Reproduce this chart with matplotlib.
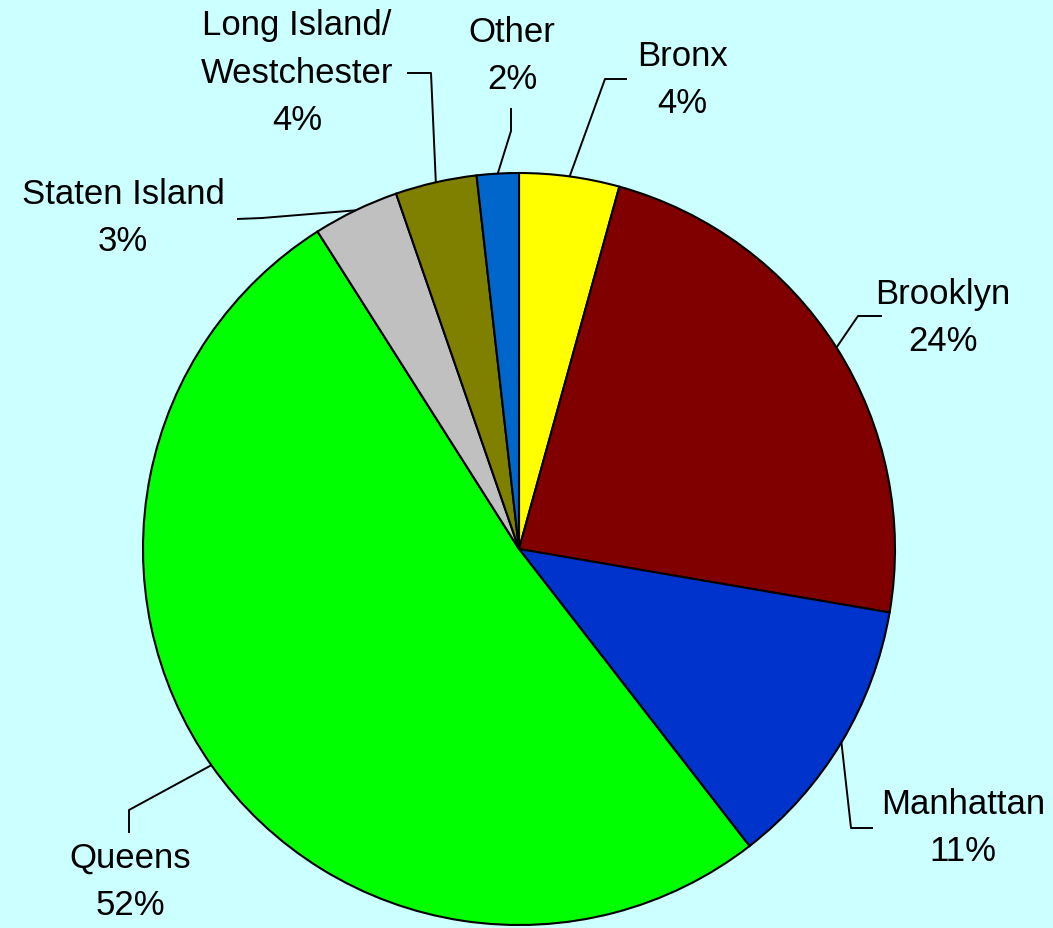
import matplotlib
matplotlib.use('Agg')

import numpy as np
import matplotlib.pyplot as plt

plt.rcParams['font.family'] = ['Liberation Sans', 'DejaVu Sans']

# ===== 数据 =====
boroughs = ['Bronx', 'Brooklyn', 'Manhattan', 'Queens', 'Staten Island',
            'Long Island/\nWestchester', 'Other']
shares = [4.3, 23.4, 11.8, 51.5, 3.7, 3.5, 1.8]
pct_labels = ['4%', '24%', '11%', '52%', '3%', '4%', '2%']
colors = ['#FFFF00', '#800000', '#0033CC', '#00FF00', '#C0C0C0', '#808000', '#0066CC']

W, H = 1053, 929
BG = '#CCFFFF'

# 标签位置 (像素坐标, y 向下): 折点, 终点, 文字中心
label_layout = [
    ((605, 80), (627, 80), (682, 80)),
    ((858, 317), (882, 317), (943, 318)),
    ((851, 829), (873, 829), (963, 828)),
    ((129, 811), (129, 834), (130, 882)),
    ((262, 219), (237, 220), (123, 218)),
    ((431, 74), (407, 74), (297, 73)),
    ((511, 132), (511, 109), (512, 56)),
]


def px(x, y):
    return x, H - y


fig = plt.figure(figsize=(W / 100, H / 100), dpi=100, facecolor=BG)
ax = fig.add_axes([0, 0, 1, 1])

cx, cy = px(519, 550)
r = 376
wedges, _ = ax.pie(shares, colors=colors, startangle=90, counterclock=False,
                   center=(cx, cy), radius=r, frame=True,
                   wedgeprops=dict(edgecolor='black', linewidth=1.5))
ax.set_xlim(0, W)
ax.set_ylim(0, H)
ax.set_aspect('equal')
ax.axis('off')

# ===== 引线和标签 =====
for w, name, pct, (elbow, end, txt) in zip(wedges, boroughs, pct_labels, label_layout):
    theta = np.deg2rad((w.theta1 + w.theta2) / 2)
    sx, sy = cx + r * np.cos(theta), cy + r * np.sin(theta)
    ex, ey = px(*elbow)
    tx, ty = px(*end)
    ax.plot([sx, ex, tx], [sy, ey, ty], color='black', lw=1.4, solid_capstyle='butt')
    lx, ly = px(*txt)
    ax.text(lx, ly, f'{name}\n{pct}', ha='center', va='center',
            fontsize=25, linespacing=1.55, multialignment='center')

fig.savefig('out.png', dpi=100, facecolor=BG)
